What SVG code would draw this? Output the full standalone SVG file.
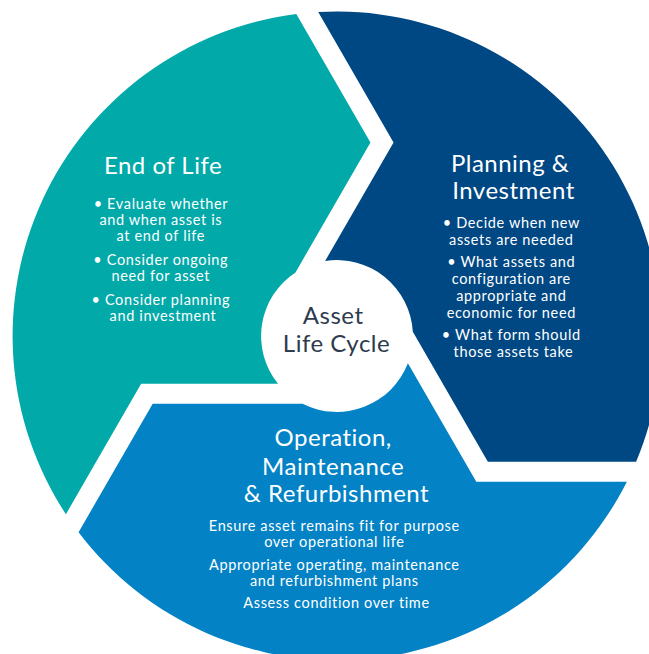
<svg xmlns="http://www.w3.org/2000/svg" width="649" height="654" viewBox="0 0 649 654">
<defs>
<path id="seg" d="M -40.7,-321.9 L 33.45,-193.5 L -41.5,-63.6 A 76 76 0 0 0 -59,47.8 L -195.85,47.78 L -271.1,178.2 A 324.5 324.5 0 0 1 -40.7,-321.9 Z"/>
</defs>
<style>
.t{font-family:Lato,"Open Sans","Liberation Sans",sans-serif;fill:#ffffff;text-anchor:middle}
.h{font-size:24px;letter-spacing:0.5px}
.b{font-size:14.5px;letter-spacing:0.65px}
.c{fill:#2E3B4E;font-size:24px;letter-spacing:0.5px}
</style>
<rect width="649" height="654" fill="#ffffff"/>
<g id="end-of-life">
<use href="#seg" transform="translate(337,336)" fill="#02A9A9"/>
<text class="t h" x="163" y="173.5">End of Life</text>
<text class="t b">
<tspan x="163" y="209">• Evaluate whether</tspan>
<tspan x="163" y="225">and when asset is</tspan>
<tspan x="163" y="241">at end of life</tspan>
<tspan x="163" y="265">• Consider ongoing</tspan>
<tspan x="163" y="281">need for asset</tspan>
<tspan x="163" y="305">• Consider planning</tspan>
<tspan x="163" y="321">and investment</tspan>
</text>
</g>
<g id="planning-investment">
<use href="#seg" transform="translate(337,336) rotate(120)" fill="#004884"/>
<text class="t h">
<tspan x="513.5" y="171.5">Planning &amp;</tspan>
<tspan x="513.5" y="199">Investment</tspan>
</text>
<text class="t b">
<tspan x="513.5" y="228">• Decide when new</tspan>
<tspan x="513.5" y="245">assets are needed</tspan>
<tspan x="513.5" y="267">• What assets and</tspan>
<tspan x="513.5" y="284">configuration are</tspan>
<tspan x="513.5" y="301">appropriate and</tspan>
<tspan x="513.5" y="317.5">economic for need</tspan>
<tspan x="513.5" y="340">• What form should</tspan>
<tspan x="513.5" y="357">those assets take</tspan>
</text>
</g>
<g id="operation-maintenance">
<use href="#seg" transform="translate(337,336) rotate(240)" fill="#0382C6"/>
<text class="t h">
<tspan x="336.5" y="446">Operation,</tspan>
<tspan x="336.5" y="475">Maintenance</tspan>
<tspan x="336.5" y="501.5">&amp; Refurbishment</tspan>
</text>
<text class="t b">
<tspan x="336.5" y="531">Ensure asset remains fit for purpose</tspan>
<tspan x="336.5" y="547">over operational life</tspan>
<tspan x="336.5" y="570">Appropriate operating, maintenance</tspan>
<tspan x="336.5" y="586">and refurbishment plans</tspan>
<tspan x="336.5" y="608">Assess condition over time</tspan>
</text>
</g>
<g id="asset-life-cycle">
<text class="t c">
<tspan x="336.5" y="324">Asset</tspan>
<tspan x="336.5" y="351.5">Life Cycle</tspan>
</text>
</g>
</svg>
